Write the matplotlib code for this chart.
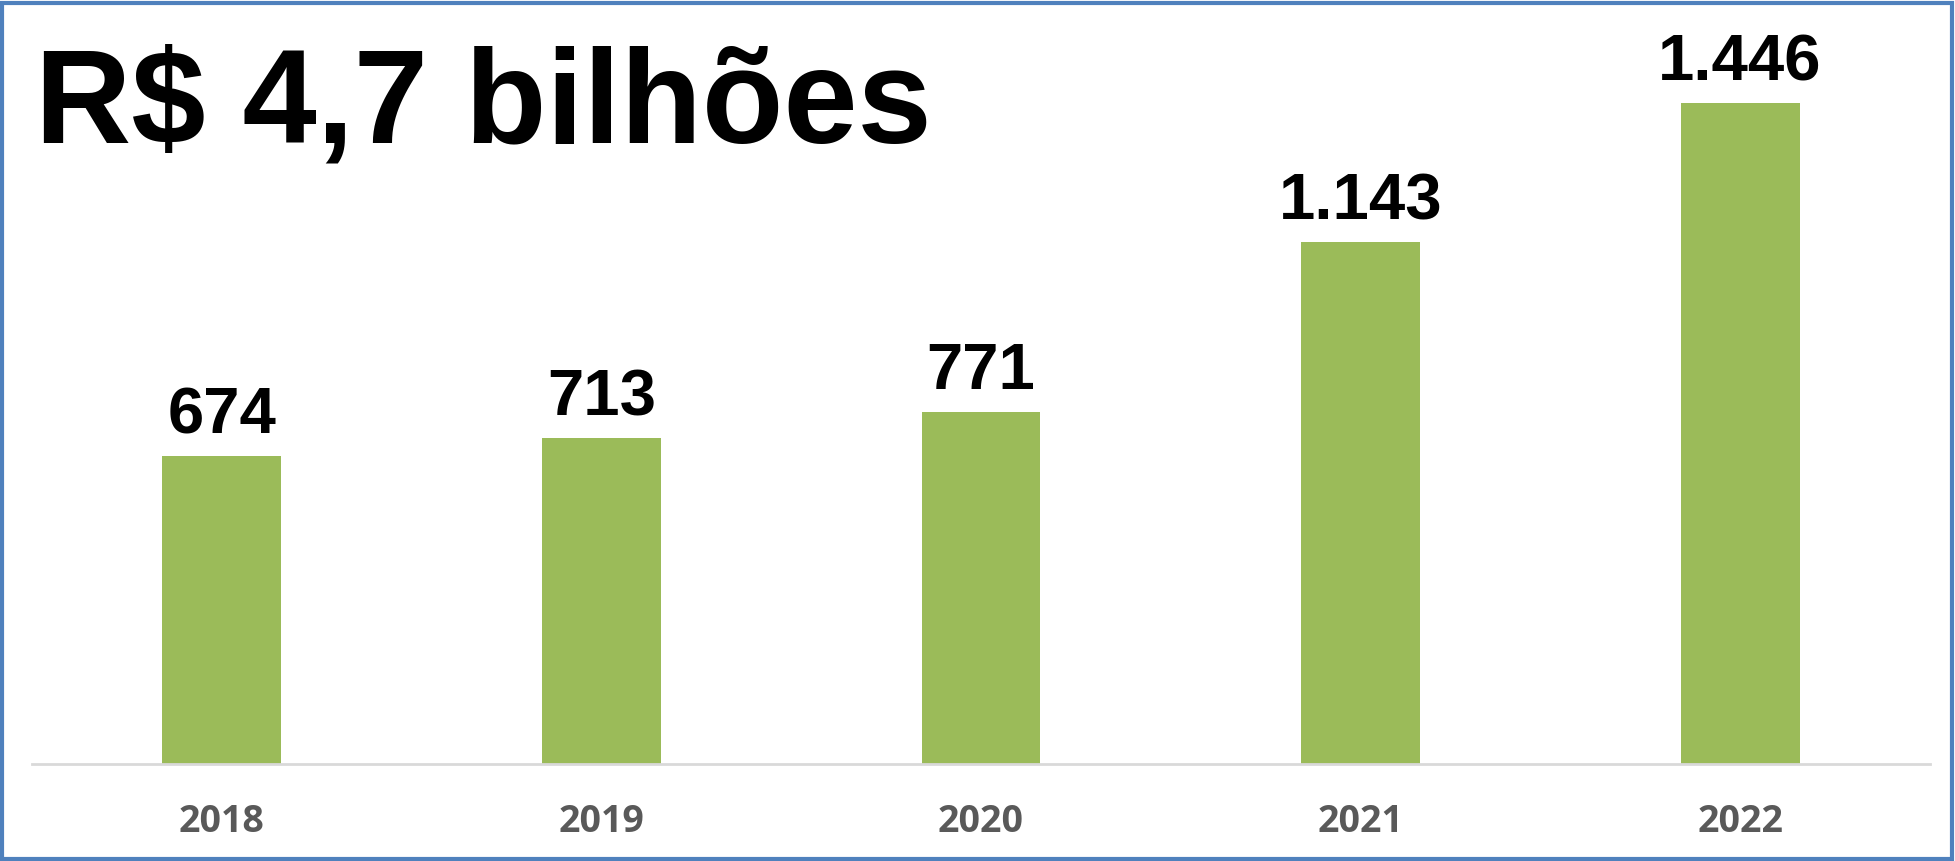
import matplotlib
matplotlib.use("Agg")
import matplotlib.pyplot as plt
from matplotlib.patches import Rectangle

anos = ["2018", "2019", "2020", "2021", "2022"]
valores = [674, 713, 771, 1143, 1446]
rotulos = ["674", "713", "771", "1.143", "1.446"]
titulo = "R$ 4,7 bilhões"

fig = plt.figure(figsize=(19.56, 8.61), dpi=100)
ax = fig.add_axes([0.01636, 0.1127, 0.9703, 0.849])

x = range(len(anos))
ax.bar(x, valores, width=0.313, color="#9BBB59", zorder=2)
ax.set_xlim(-0.5, len(anos) - 0.5)
ax.set_ylim(0, 1600)

# rotulos de dados acima das barras
for i, (v, r) in enumerate(zip(valores, rotulos)):
    ax.annotate(r, (i, v), xytext=(0, 7), textcoords="offset points",
                ha="center", va="bottom", fontsize=47, fontweight="bold",
                family=["Liberation Sans", "DejaVu Sans"])

ax.set_xticks(list(x))
ax.set_xticklabels(anos, fontsize=27, fontweight="bold", color="#595959",
                   family=["Open Sans", "DejaVu Sans"])
ax.tick_params(axis="x", length=0, pad=28)
ax.set_yticks([])
for s in ["top", "right", "left"]:
    ax.spines[s].set_visible(False)
ax.spines["bottom"].set_color("#D9D9D9")
ax.spines["bottom"].set_linewidth(2)

fig.text(0.018, 0.835, titulo, fontsize=96, fontweight="bold",
         family=["Liberation Sans", "DejaVu Sans"], va="baseline")

fig.patches.append(Rectangle((0.001, 0.002), 0.997, 0.995, transform=fig.transFigure,
                             fill=False, edgecolor="#4F81BD", linewidth=3))

fig.savefig("out.png", dpi=100)
